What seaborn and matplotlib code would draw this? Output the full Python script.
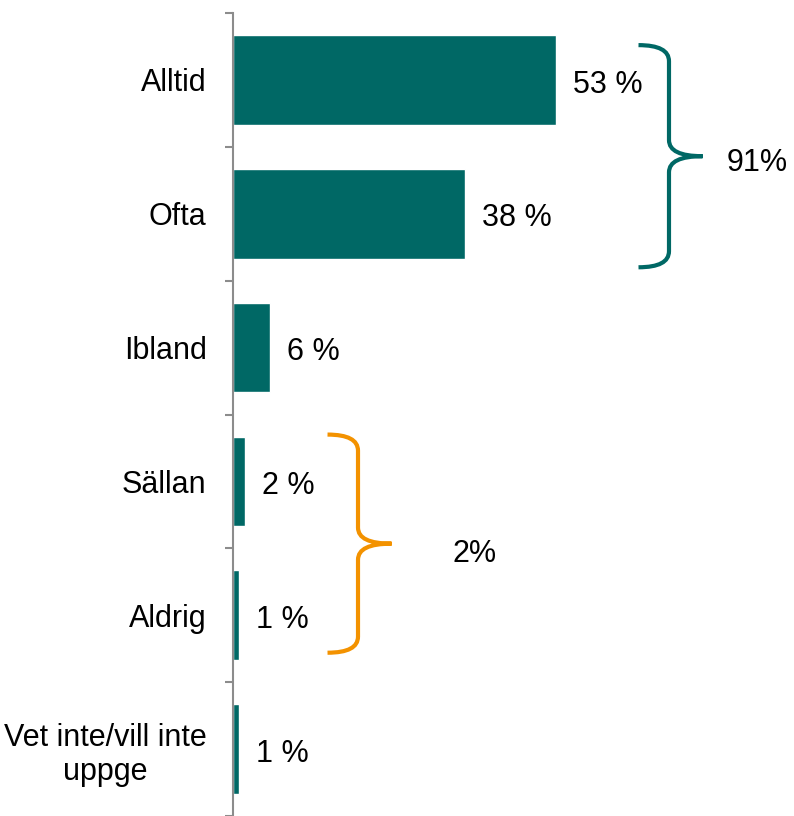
import matplotlib
matplotlib.use("Agg")
import matplotlib.pyplot as plt
from matplotlib.path import Path
from matplotlib.patches import PathPatch
import seaborn as sns
import pandas as pd

# Data
categories = ["Alltid", "Ofta", "Ibland", "Sällan", "Aldrig", "Vet inte/vill inte\nuppge"]
values = [53, 38, 6, 2, 1, 1]
group_rows = [(0, 1), (3, 4)]
group_labels = ["91%", "2%"]
group_colors = ["#006865", "#F39200"]

bar_color = "#006865"

sns.set_style("white")
plt.rcParams["font.family"] = ["Liberation Sans", "DejaVu Sans"]
plt.rcParams["text.color"] = "black"
plt.rcParams["ytick.color"] = "#8c8c8c"
plt.rcParams["ytick.labelcolor"] = "black"

df = pd.DataFrame({"cat": categories, "val": values})

fig = plt.figure(figsize=(7.94, 8.16), dpi=100)
ax = fig.add_axes([233 / 794, 0, 1 - 233 / 794, 1 - 13 / 816])

sns.barplot(data=df, x="val", y="cat", orient="h", color=bar_color,
            width=0.67, saturation=1, ax=ax)

ax.set_xlim(0, 92)
ax.set_ylim(len(categories) - 0.5, -0.5)
ax.set_xlabel("")
ax.set_ylabel("")
ax.set_xticks([])

for s in ["top", "right", "bottom"]:
    ax.spines[s].set_visible(False)
ax.spines["left"].set_color("#8c8c8c")
ax.spines["left"].set_linewidth(1.5)

# ticks between categories, labels at centres
ax.set_yticks(range(len(categories)))
ax.set_yticklabels(categories, fontsize=22, color="black")
for lbl in ax.get_yticklabels():
    lbl.set_multialignment("center")
ax.tick_params(axis="y", which="major", left=False, length=0, pad=19)
ax.set_yticks([i - 0.5 for i in range(len(categories) + 1)], minor=True)
ax.tick_params(axis="y", which="minor", left=True, length=6, width=1.5,
               color="#8c8c8c")

# value labels
for i, v in enumerate(values):
    ax.text(v + 2.8, i + 0.035, f"{v} %", va="center", ha="left",
            fontsize=22, color="black")


def draw_brace(ax, y_top, y_bot, x_end, color):
    x_v = x_end + 5
    x_tip = x_v + 5.5
    y_mid = (y_top + y_bot) / 2
    ry = 0.12
    verts = [
        (x_end, y_top), (x_v, y_top), (x_v, y_top + ry),
        (x_v, y_mid - ry), (x_v, y_mid), (x_tip, y_mid),
        (x_v, y_mid), (x_v, y_mid + ry),
        (x_v, y_bot - ry), (x_v, y_bot), (x_end, y_bot),
    ]
    codes = [
        Path.MOVETO, Path.CURVE3, Path.CURVE3,
        Path.LINETO, Path.CURVE3, Path.CURVE3,
        Path.CURVE3, Path.CURVE3,
        Path.LINETO, Path.CURVE3, Path.CURVE3,
    ]
    patch = PathPatch(Path(verts, codes), fill=False, edgecolor=color,
                      linewidth=3, capstyle="butt", clip_on=False)
    ax.add_patch(patch)
    return x_tip, y_mid


brace_pad = [(0.26, 0.40), (0.35, 0.28)]
label_x = [81, 36]
label_dy = [0.05, 0.08]
for (r0, r1), (pt, pb), lab, col, lx, dy in zip(group_rows, brace_pad, group_labels,
                                                group_colors, label_x, label_dy):
    top_val = max(values[r0:r1 + 1])
    x_tip, y_mid = draw_brace(ax, r0 - pt, r1 + pb, top_val + 13.5, col)
    ax.text(lx, y_mid + dy, lab, va="center", ha="left", fontsize=22,
            color="black")

fig.savefig("out.png", dpi=100)
